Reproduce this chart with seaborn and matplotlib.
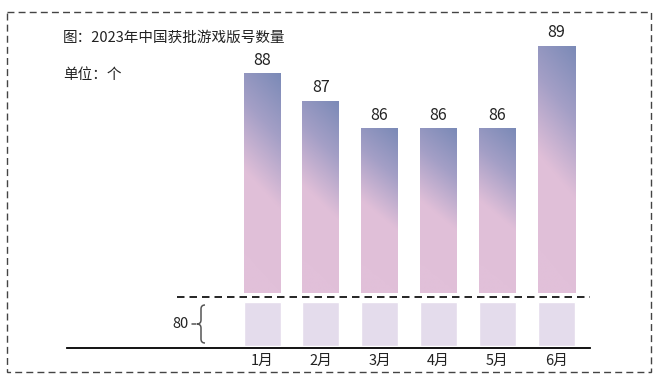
import numpy as np
import pandas as pd
import matplotlib
matplotlib.use("Agg")
import matplotlib.pyplot as plt
import seaborn as sns
from matplotlib.colors import LinearSegmentedColormap
from matplotlib.patches import Rectangle, PathPatch
from matplotlib.path import Path
from matplotlib.transforms import Affine2D

# ---- data ----
months = ["1月", "2月", "3月", "4月", "5月", "6月"]
approvals = [88, 87, 86, 86, 86, 89]
base_value = 80
base_values = [base_value] * len(months)
title = "图：2023年中国获批游戏版号数量"
unit = "单位：个"

sns.set_theme(style="white")
plt.rcParams["font.family"] = ["Noto Sans CJK SC", "DejaVu Sans"]

W, H = 660, 380
fig = plt.figure(figsize=(6.6, 3.8), dpi=100)
px = Affine2D().scale(1 / W, -1 / H).translate(0, 1) + fig.transFigure

df = pd.DataFrame({"month": months, "value": approvals, "base": base_values})

# geometry (pixels)
x0_px, step_px = 262.0, 58.8
ax_left_px, ax_right_px = 67, 590
xl = (ax_left_px - x0_px) / step_px
xr = (ax_right_px - x0_px) / step_px
bar_w = 37 / step_px

# ---- upper axes (broken axis, values from 80) ----
top_px, bot_px = 18, 293
ax = fig.add_axes([ax_left_px / W, 1 - bot_px / H,
                   (ax_right_px - ax_left_px) / W, (bot_px - top_px) / H])
ax.patch.set_alpha(0)
sns.barplot(data=df, x="month", y="value", ax=ax, width=bar_w,
            color="#e0bfd8", saturation=1)
ax.set_ylim(base_value, 90)
ax.set_xlim(xl, xr)
ax.axis("off")

cmap = LinearSegmentedColormap.from_list(
    "g", [(0.0, "#7b8ab7"), (0.3, "#a49fc6"), (0.62, "#e0bfd8"), (1.0, "#e1c0d9")])
ny, nx = 200, 40
v = np.linspace(0, 1, ny)[:, None]
u = np.linspace(0, 1, nx)[None, :]
grad = np.clip(v * 1.0 + (1 - u) * 0.18, 0, 1)
for p in ax.patches:
    x, w = p.get_x(), p.get_width()
    y1 = p.get_y() + p.get_height()
    p.set_facecolor("none")
    p.set_edgecolor("none")
    im = ax.imshow(grad, cmap=cmap, vmin=0, vmax=1, aspect="auto",
                   extent=[x, x + w, base_value, y1], origin="upper",
                   zorder=2, interpolation="bilinear")
    im.set_clip_path(p)
ax.set_xlim(xl, xr)
ax.set_ylim(base_value, 90)
ax.bar_label(ax.containers[0], labels=[str(a) for a in approvals],
             padding=3, fontsize=11.5, color="#222222")

# ---- lower axes (stub bars standing for 0-80) ----
lo_top_px, lo_bot_px = 297, 348
ax2 = fig.add_axes([ax_left_px / W, 1 - lo_bot_px / H,
                    (ax_right_px - ax_left_px) / W, (lo_bot_px - lo_top_px) / H])
ax2.patch.set_alpha(0)
sns.barplot(data=df, x="month", y="base", ax=ax2, width=bar_w,
            color="#e4dcec", saturation=1)
scale = 44 / base_value  # px per unit
ax2.set_ylim(-2 / scale, base_value + 5 / scale)
ax2.set_xlim(xl, xr)
for s in ["top", "right", "left"]:
    ax2.spines[s].set_visible(False)
ax2.spines["bottom"].set_color("black")
ax2.spines["bottom"].set_linewidth(1.3)
ax2.set_yticks([])
ax2.set_xlabel("")
ax2.set_ylabel("")
ax2.tick_params(axis="x", length=0, pad=4, labelsize=10.5, labelcolor="#222222")

# dashed break line
ax2.plot([(177 - x0_px) / step_px, xr], [base_value + 5 / scale] * 2,
         color="black", lw=1.2, linestyle=(0, (4.5, 3)), clip_on=False)

# brace with "80"
verts = [(205, 305), (201, 305), (201, 309),
         (201, 320), (201, 324), (197, 324),
         (201, 324), (201, 328),
         (201, 339), (201, 343), (205, 343)]
codes = [Path.MOVETO, Path.CURVE3, Path.CURVE3,
         Path.LINETO, Path.CURVE3, Path.CURVE3,
         Path.CURVE3, Path.CURVE3,
         Path.LINETO, Path.CURVE3, Path.CURVE3]
fig.add_artist(PathPatch(Path(verts, codes), transform=px, fill=False,
                         edgecolor="#555555", lw=1.1))
fig.add_artist(plt.Line2D([192, 196], [324, 324], transform=px,
                          color="#555555", lw=1.1))
fig.text(189 / W, 1 - 324 / H, str(base_value), fontsize=10.5,
         ha="right", va="center", color="#222222")

# titles
fig.text(63 / W, 1 - 38 / H, title, fontsize=10.5, ha="left", va="center",
         color="#222222")
fig.text(63 / W, 1 - 75 / H, unit, fontsize=10.5, ha="left", va="center",
         color="#222222")

# dashed frame
fig.add_artist(Rectangle((7, 12), 644, 360, transform=px, fill=False,
                         edgecolor="#444444", lw=1.0, linestyle=(0, (5, 3))))

fig.savefig("out.png", dpi=100)
